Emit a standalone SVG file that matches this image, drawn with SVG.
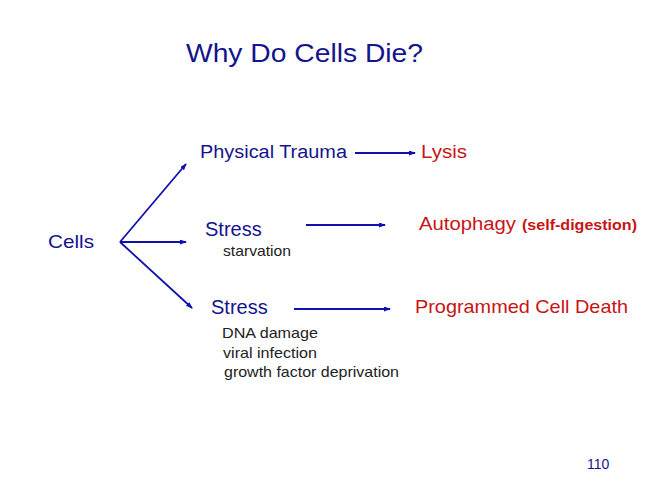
<svg xmlns="http://www.w3.org/2000/svg" width="648" height="497" viewBox="0 0 648 497">
<style>
text{font-family:"Liberation Sans",Arial,sans-serif}
.b{fill:#14148c}.r{fill:#c81414}.s{fill:#222;font-size:15px}
.c line{stroke:#1010b0;stroke-width:1.8;marker-end:url(#a)}
</style>
<defs><marker id="a" markerWidth="7" markerHeight="5" refX="6" refY="2.5" orient="auto" markerUnits="userSpaceOnUse"><path d="M0,0L7,2.5L0,5z" fill="#1010b0"/></marker></defs>
<rect width="648" height="497" fill="#fff"/>
<g id="title"><text x="186" y="62" font-size="25" class="b" textLength="237" lengthAdjust="spacingAndGlyphs">Why Do Cells Die?</text></g>
<g id="cells"><text x="48" y="248" font-size="19" class="b" textLength="46" lengthAdjust="spacingAndGlyphs">Cells</text></g>
<g id="trauma"><text x="200" y="158" font-size="18" class="b" textLength="147" lengthAdjust="spacingAndGlyphs">Physical Trauma</text></g>
<g id="stress1"><text x="205" y="236" font-size="20" class="b">Stress</text><text x="223" y="256" class="s" textLength="68" lengthAdjust="spacingAndGlyphs">starvation</text></g>
<g id="stress2"><text x="211" y="314" font-size="20" class="b">Stress</text><text x="222" y="338" class="s" textLength="96" lengthAdjust="spacingAndGlyphs">DNA damage</text><text x="223" y="358" class="s" textLength="94" lengthAdjust="spacingAndGlyphs">viral infection</text><text x="224" y="377" class="s" textLength="175" lengthAdjust="spacingAndGlyphs">growth factor deprivation</text></g>
<g id="lysis"><text x="421" y="158" font-size="18" class="r" textLength="46" lengthAdjust="spacingAndGlyphs">Lysis</text></g>
<g id="auto"><text x="419" y="230" font-size="18" class="r" textLength="97" lengthAdjust="spacingAndGlyphs">Autophagy</text><text x="522" y="230" font-size="15" font-weight="bold" class="r" textLength="115" lengthAdjust="spacingAndGlyphs">(self-digestion)</text></g>
<g id="pcd"><text x="415" y="313" font-size="19" class="r" textLength="213" lengthAdjust="spacingAndGlyphs">Programmed Cell Death</text></g>
<g id="page"><text x="587" y="469" font-size="14" class="b">110</text></g>
<g class="c" id="connectors">
<line x1="120" y1="242" x2="186" y2="164"/>
<line x1="120" y1="242" x2="186" y2="242"/>
<line x1="120" y1="242" x2="192" y2="308"/>
<line x1="355" y1="153" x2="415" y2="153"/>
<line x1="306" y1="225" x2="385" y2="225"/>
<line x1="294" y1="309" x2="390" y2="309"/>
</g>
</svg>
